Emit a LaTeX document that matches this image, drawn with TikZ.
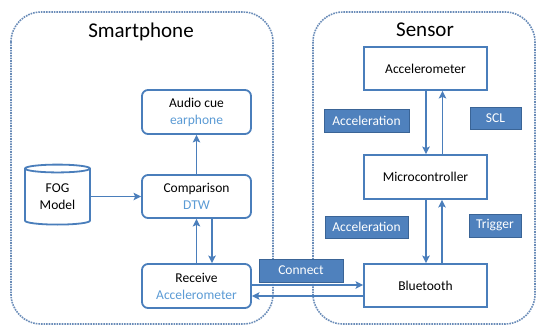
\documentclass[tikz,border=0pt]{standalone}
\usepackage{fontspec}
\setmainfont{Carlito}
\usetikzlibrary{shapes.geometric,arrows.meta}
\definecolor{edgeblue}{HTML}{4A7EBB}
\definecolor{textblue}{HTML}{5B9BD5}
\definecolor{tagfill}{HTML}{4F81BD}
\definecolor{tagedge}{HTML}{3A6496}
\definecolor{zoneedge}{HTML}{6A8CB8}
\tikzset{
  zone/.style={draw=zoneedge, line width=1.6pt, densely dotted, rounded corners=30pt},
  title/.style={font=\fontsize{21}{24}\selectfont},
  softbox/.style={draw=edgeblue, line width=1.8pt, rounded corners=6pt, fill=white,
    align=center, font=\fontsize{13.5}{17}\selectfont, inner sep=0pt},
  hardbox/.style={draw=edgeblue, line width=1.8pt, fill=white,
    align=center, font=\fontsize{13.5}{17}\selectfont, inner sep=0pt},
  tag/.style={draw=tagedge, line width=0.9pt, fill=tagfill, text=white,
    font=\fontsize{13.5}{17}\selectfont, inner sep=0pt},
  store/.style={cylinder, shape border rotate=90, aspect=0.22, draw=edgeblue,
    line width=1.8pt, align=center, font=\fontsize{13.5}{17}\selectfont, inner sep=0pt},
  arr/.style={draw=edgeblue, line width=1.8pt, -{Stealth[length=7.5pt,width=7.5pt,inset=1.5pt]}}
}
\begin{document}
\begin{tikzpicture}[x=1pt,y=-1pt]
\useasboundingbox (0,0) rectangle (537,327);

% two enclosing zones
\draw[zone] (11,12) rectangle (273,324);
\draw[zone] (313,12) rectangle (535,324);
\node[title] (tphone) at (141,32) {Smartphone};
\node[title] (tsensor) at (425,30) {Sensor};

% smartphone side
\node[softbox, minimum width=109pt, minimum height=44pt] (audio) at (196.5,112)
  {Audio cue\\\textcolor{textblue}{earphone}};
\node[softbox, minimum width=109pt, minimum height=43pt] (cmp) at (196.5,196.5)
  {Comparison\\\textcolor{textblue}{DTW}};
\node[softbox, minimum width=109pt, minimum height=44pt] (recv) at (196.5,286)
  {Receive\\\textcolor{textblue}{Accelerometer}};
\node[store, minimum width=65pt, minimum height=60pt] (fog) at (57.5,197)
  {FOG\\Model};

% sensor side
\node[hardbox, minimum width=123pt, minimum height=43pt] (acc) at (425.5,68.5) {Accelerometer};
\node[hardbox, minimum width=123pt, minimum height=44pt] (mcu) at (425.5,177) {Microcontroller};
\node[hardbox, minimum width=123pt, minimum height=43pt] (bt) at (425.5,285.5) {Bluetooth};

% signal tags
\node[tag, minimum width=85pt, minimum height=23pt] (tacc1) at (366.5,120.5) {Acceleration};
\node[tag, minimum width=51pt, minimum height=22pt] (tscl) at (495.5,118) {SCL};
\node[tag, minimum width=83pt, minimum height=22pt] (tacc2) at (366.5,227) {Acceleration};
\node[tag, minimum width=52pt, minimum height=23pt] (ttrig) at (495,225.5) {Trigger};
\node[tag, minimum width=84pt, minimum height=23pt] (tconn) at (301,270.5) {Connect};

% smartphone connectors
\draw[arr] (fog.east |- cmp.west) -- (cmp.west);
\draw[arr] (cmp.north) -- (audio.south);
\draw[arr] (recv.north) -- (cmp.south);
\draw[arr] ([xshift=15.5pt]cmp.south) -- ([xshift=15.5pt]recv.north);

% sensor connectors
\draw[arr] ([xshift=0.5pt]acc.south) -- ([xshift=0.5pt]mcu.north);
\draw[arr] ([xshift=17pt]mcu.north) -- ([xshift=17pt]acc.south);
\draw[arr] ([xshift=0.5pt]mcu.south) -- ([xshift=0.5pt]bt.north);
\draw[arr] ([xshift=16.5pt]bt.north) -- ([xshift=16.5pt]mcu.south);

% link between the two zones
\draw[arr] ([yshift=1pt]recv.east) -- ([yshift=1pt]recv.east -| bt.west);
\draw[arr] ([yshift=-10pt]recv.east -| bt.west) -- ([yshift=-10pt]recv.east);
\end{tikzpicture}
\end{document}
